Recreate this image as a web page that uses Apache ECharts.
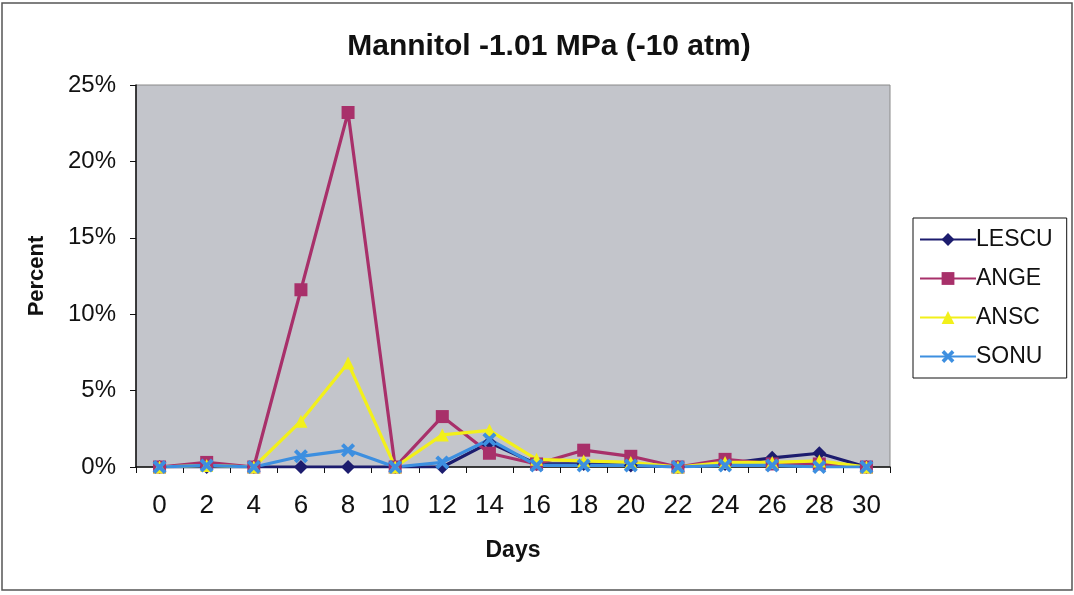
<!DOCTYPE html>
<html>
<head>
<meta charset="utf-8">
<script src="https://cdn.jsdelivr.net/npm/echarts@6/dist/echarts.min.js"></script>
<style>html,body{margin:0;padding:0;background:#fff}#c{width:1074px;height:595px}</style>
</head>
<body>
<div id="c"></div>
<script>
const days = ['0','2','4','6','8','10','12','14','16','18','20','22','24','26','28','30'];
const LESCU = [0, 0, 0, 0, 0, 0, 0, 1.6, 0.2, 0.2, 0.1, 0, 0.2, 0.6, 0.9, 0];
const ANGE  = [0, 0.3, 0, 11.6, 23.2, 0, 3.3, 0.9, 0.2, 1.1, 0.7, 0, 0.5, 0.2, 0.2, 0];
const ANSC  = [0, 0.1, 0, 3.0, 6.8, 0, 2.1, 2.4, 0.5, 0.4, 0.3, 0, 0.3, 0.3, 0.4, 0];
const SONU  = [0, 0.1, 0, 0.7, 1.1, 0, 0.3, 1.8, 0.1, 0.1, 0.1, 0, 0.1, 0.1, 0, 0];
const yTicks = [0, 5, 10, 15, 20, 25];

const xSym = 'path://M0,2 L2,0 L5,3 L8,0 L10,2 L7,5 L10,8 L8,10 L5,7 L2,10 L0,8 L3,5 Z';
const narrow = 'Liberation Sans Narrow, Arial Narrow, Liberation Sans, Arial';

function mk(name, data, color, symbol, size) {
  return {
    name, type: 'line', data,
    symbol, symbolSize: size,
    lineStyle: { color, width: 3.2 },
    itemStyle: { color, borderWidth: 0 },
    emphasis: { disabled: true }
  };
}

const chart = echarts.init(document.getElementById('c'));
chart.setOption({
  animation: false,
  backgroundColor: '#fff',
  title: {
    text: 'Mannitol -1.01 MPa (-10 atm)',
    left: 544, top: 27, textAlign: 'center',
    textStyle: { fontFamily: 'Liberation Sans, Arial', fontWeight: 'bold', fontSize: 30, color: '#111' }
  },
  graphic: [
    { type: 'rect', shape: { x: 2, y: 3, width: 1070, height: 587 }, style: { fill: 'none', stroke: '#555', lineWidth: 1.5 }, z: -1 }
  ],
  legend: {
    orient: 'vertical',
    left: 913, top: 218,
    width: 152,
    padding: [10, 14, 10, 6],
    itemGap: 16,
    itemWidth: 56, itemHeight: 16,
    borderColor: '#111', borderWidth: 1,
    backgroundColor: '#fff',
    textStyle: { fontFamily: 'Liberation Sans, Arial', fontSize: 23, color: '#111', padding: [0, 0, 0, -5] },
    data: ['LESCU', 'ANGE', 'ANSC', 'SONU']
  },
  grid: {
    left: 136, top: 85, right: 184, bottom: 128,
    show: true, backgroundColor: '#c3c5cb', borderColor: '#8a8a8a', borderWidth: 1
  },
  xAxis: {
    type: 'category', data: days, boundaryGap: true,
    name: 'Days', nameLocation: 'middle', nameGap: 72,
    nameTextStyle: { fontFamily: narrow, fontWeight: 'bold', fontSize: 23, color: '#111' },
    axisLine: { lineStyle: { color: '#111', width: 1.5 } },
    axisTick: { show: true, inside: false, length: 6, alignWithLabel: false, lineStyle: { color: '#111' } },
    axisLabel: { fontFamily: narrow, fontSize: 26, color: '#111', margin: 26 },
    splitLine: { show: false }
  },
  yAxis: {
    type: 'value', min: 0, max: 25, interval: 5,
    name: 'Percent', nameLocation: 'middle', nameGap: 88, nameRotate: 90,
    nameTextStyle: { fontFamily: 'Liberation Sans, Arial', fontWeight: 'bold', fontSize: 22, color: '#111' },
    axisLine: { show: true, lineStyle: { color: '#111', width: 1.5 } },
    axisTick: { show: true, inside: false, length: 6, lineStyle: { color: '#111' } },
    axisLabel: { formatter: v => yTicks.includes(v) ? v + '%' : '', fontFamily: 'Liberation Sans, Arial', fontSize: 24, color: '#111', margin: 20 },
    splitLine: { show: false }
  },
  series: [
    mk('LESCU', LESCU, '#1c1c6e', 'diamond', 14),
    mk('ANGE', ANGE, '#a8306a', 'rect', 13),
    mk('ANSC', ANSC, '#f2f01a', 'triangle', 13),
    mk('SONU', SONU, '#3d8fe0', xSym, 14)
  ]
});
</script>
</body>
</html>
